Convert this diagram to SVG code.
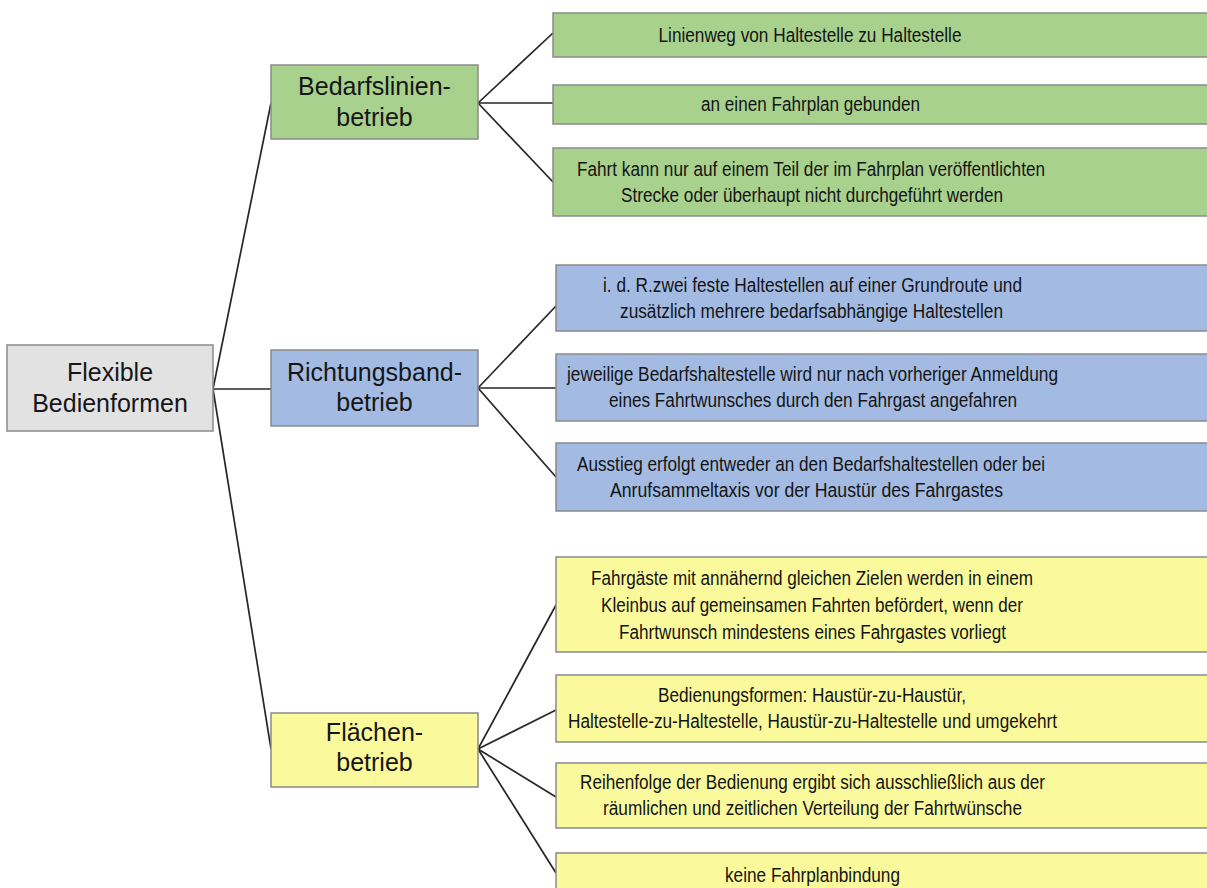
<svg xmlns="http://www.w3.org/2000/svg" width="1207" height="888" viewBox="0 0 1207 888">
<style>
.box{stroke:#8a8a8a;stroke-width:1.5}
.g{fill:#a9d18e}
.b{fill:#a3bbe3}
.y{fill:#fafa9c}
.gr{fill:#e2e2e2}
.mid{font-family:"Liberation Sans",Arial,sans-serif;font-size:25px;fill:#161616;text-anchor:middle}
.t{font-family:"Liberation Sans",Arial,sans-serif;font-size:19.5px;fill:#141414;text-anchor:middle}
.c{stroke:#262626;stroke-width:1.7;fill:none}
</style>
<rect width="1207" height="888" fill="#ffffff"/>
<g id="connectors">
<line class="c" x1="213" y1="389" x2="271" y2="103"/>
<line class="c" x1="213" y1="389" x2="271" y2="389"/>
<line class="c" x1="213" y1="389" x2="271" y2="749"/>
<line class="c" x1="478" y1="103" x2="553" y2="33"/>
<line class="c" x1="478" y1="103" x2="553" y2="103"/>
<line class="c" x1="478" y1="103" x2="553" y2="182"/>
<line class="c" x1="478" y1="388" x2="556" y2="306"/>
<line class="c" x1="478" y1="388" x2="556" y2="388"/>
<line class="c" x1="478" y1="388" x2="556" y2="477"/>
<line class="c" x1="478" y1="749" x2="556" y2="605"/>
<line class="c" x1="478" y1="749" x2="556" y2="710"/>
<line class="c" x1="478" y1="749" x2="556" y2="797"/>
<line class="c" x1="478" y1="749" x2="556" y2="873"/>
</g>
<g id="root">
<rect class="box gr" x="7" y="345" width="206" height="86"/>
<text class="mid" x="110" y="381">Flexible</text>
<text class="mid" x="110" y="412">Bedienformen</text>
</g>
<g id="bedarfslinien">
<rect class="box g" x="271" y="65" width="207" height="74"/>
<text class="mid" x="374.5" y="95">Bedarfslinien-</text>
<text class="mid" x="374.5" y="126">betrieb</text>
</g>
<g id="richtungsband">
<rect class="box b" x="271" y="350" width="207" height="76"/>
<text class="mid" x="374.5" y="381">Richtungsband-</text>
<text class="mid" x="374.5" y="411">betrieb</text>
</g>
<g id="flaechen">
<rect class="box y" x="271" y="713" width="207" height="74"/>
<text class="mid" x="374.5" y="741">Flächen-</text>
<text class="mid" x="374.5" y="771">betrieb</text>
</g>
<g id="g1">
<rect class="box g" x="553" y="13" width="660" height="44"/>
<text class="t" x="810" y="42" textLength="303" lengthAdjust="spacingAndGlyphs">Linienweg von Haltestelle zu Haltestelle</text>
</g>
<g id="g2">
<rect class="box g" x="553" y="85" width="660" height="39"/>
<text class="t" x="810.5" y="111" textLength="219" lengthAdjust="spacingAndGlyphs">an einen Fahrplan gebunden</text>
</g>
<g id="g3">
<rect class="box g" x="553" y="148" width="660" height="68"/>
<text class="t" x="811" y="176" textLength="468" lengthAdjust="spacingAndGlyphs">Fahrt kann nur auf einem Teil der im Fahrplan veröffentlichten</text>
<text class="t" x="812" y="201.5" textLength="382" lengthAdjust="spacingAndGlyphs">Strecke oder überhaupt nicht durchgeführt werden</text>
</g>
<g id="b1">
<rect class="box b" x="556" y="265" width="660" height="66"/>
<text class="t" x="812.5" y="291.5" textLength="419" lengthAdjust="spacingAndGlyphs">i. d. R.zwei feste Haltestellen auf einer Grundroute und</text>
<text class="t" x="811.5" y="317.5" textLength="383" lengthAdjust="spacingAndGlyphs">zusätzlich mehrere bedarfsabhängige Haltestellen</text>
</g>
<g id="b2">
<rect class="box b" x="556" y="354" width="660" height="67"/>
<text class="t" x="812.5" y="381" textLength="491" lengthAdjust="spacingAndGlyphs">jeweilige Bedarfshaltestelle wird nur nach vorheriger Anmeldung</text>
<text class="t" x="813" y="407" textLength="408" lengthAdjust="spacingAndGlyphs">eines Fahrtwunsches durch den Fahrgast angefahren</text>
</g>
<g id="b3">
<rect class="box b" x="556" y="443" width="660" height="68"/>
<text class="t" x="811" y="471" textLength="468" lengthAdjust="spacingAndGlyphs">Ausstieg erfolgt entweder an den Bedarfshaltestellen oder bei</text>
<text class="t" x="806.5" y="497" textLength="393" lengthAdjust="spacingAndGlyphs">Anrufsammeltaxis vor der Haustür des Fahrgastes</text>
</g>
<g id="y1">
<rect class="box y" x="556" y="557" width="660" height="95"/>
<text class="t" x="812" y="585" textLength="442" lengthAdjust="spacingAndGlyphs">Fahrgäste mit annähernd gleichen Zielen werden in einem</text>
<text class="t" x="812" y="612" textLength="422" lengthAdjust="spacingAndGlyphs">Kleinbus auf gemeinsamen Fahrten befördert, wenn der</text>
<text class="t" x="812.5" y="639" textLength="387" lengthAdjust="spacingAndGlyphs">Fahrtwunsch mindestens eines Fahrgastes vorliegt</text>
</g>
<g id="y2">
<rect class="box y" x="556" y="675" width="660" height="67"/>
<text class="t" x="812" y="702" textLength="308" lengthAdjust="spacingAndGlyphs">Bedienungsformen: Haustür-zu-Haustür,</text>
<text class="t" x="812.5" y="728" textLength="489" lengthAdjust="spacingAndGlyphs">Haltestelle-zu-Haltestelle, Haustür-zu-Haltestelle und umgekehrt</text>
</g>
<g id="y3">
<rect class="box y" x="556" y="763" width="660" height="65"/>
<text class="t" x="812.5" y="789" textLength="465" lengthAdjust="spacingAndGlyphs">Reihenfolge der Bedienung ergibt sich ausschließlich aus der</text>
<text class="t" x="812.5" y="815" textLength="419" lengthAdjust="spacingAndGlyphs">räumlichen und zeitlichen Verteilung der Fahrtwünsche</text>
</g>
<g id="y4">
<rect class="box y" x="556" y="853" width="660" height="50"/>
<text class="t" x="812.5" y="882" textLength="175" lengthAdjust="spacingAndGlyphs">keine Fahrplanbindung</text>
</g>
</svg>
